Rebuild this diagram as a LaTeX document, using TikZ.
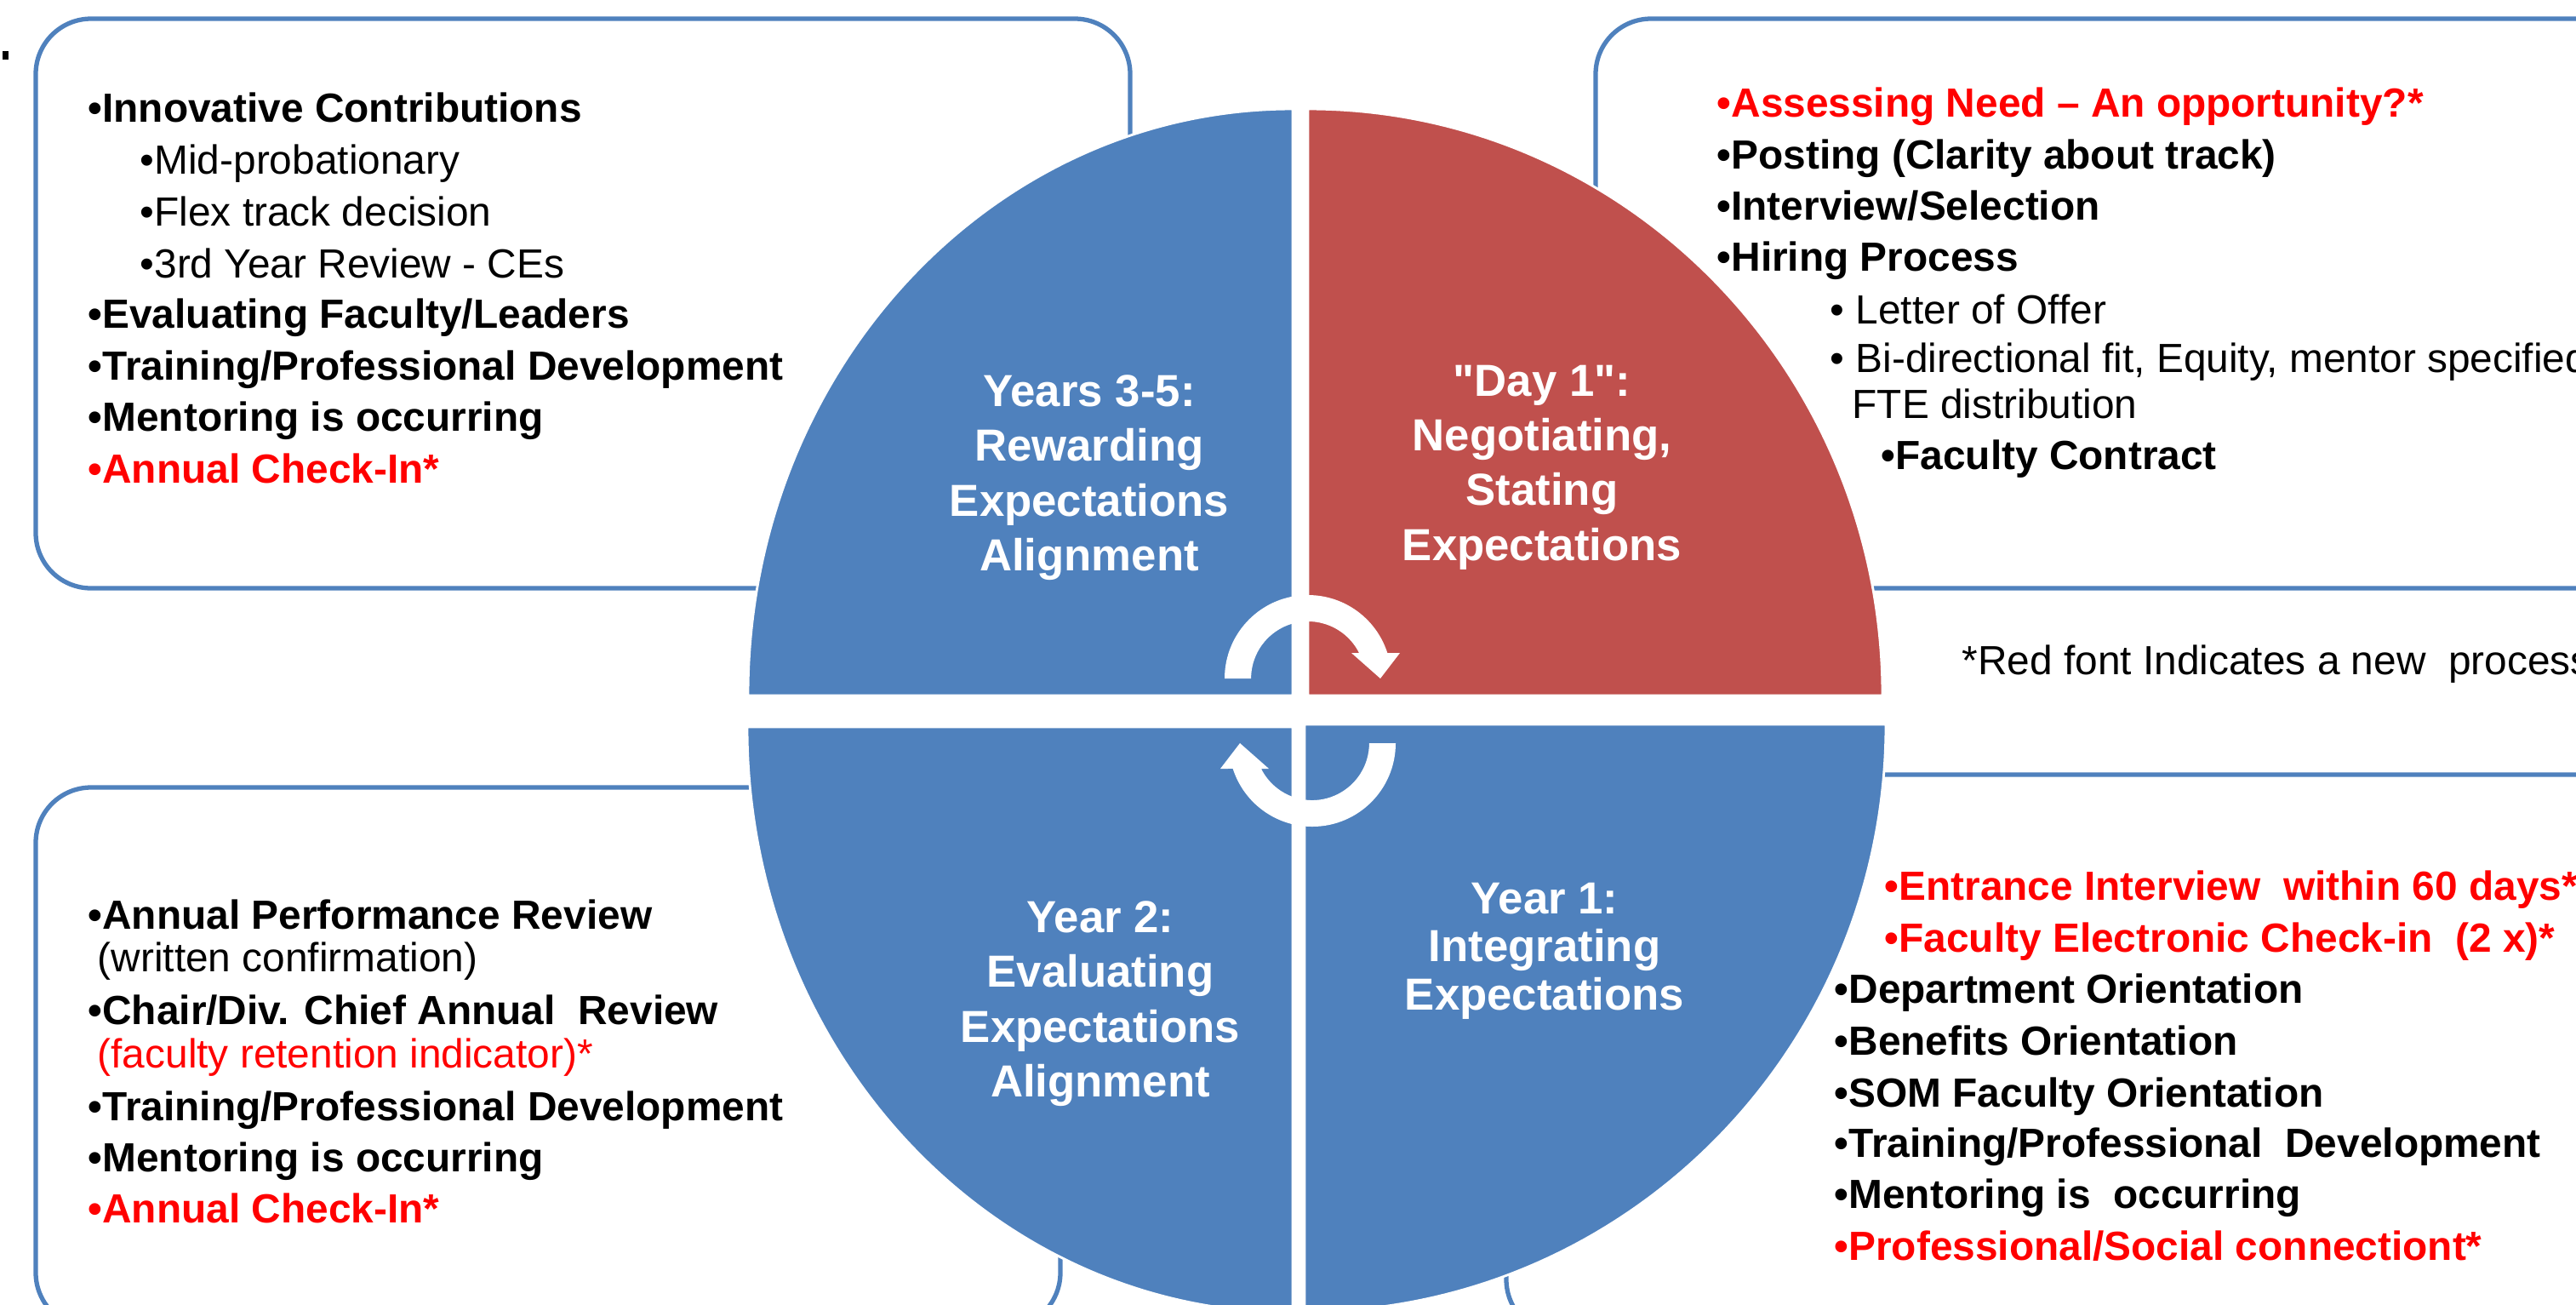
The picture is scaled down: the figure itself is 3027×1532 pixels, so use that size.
\documentclass[tikz,border=0pt]{standalone}
\usepackage{fontspec}
\setmainfont{Liberation Sans}
\newfontfamily\labelfont{Liberation Sans}
\definecolor{quadblue}{HTML}{4F81BD}
\definecolor{quadred}{HTML}{C0504D}
\definecolor{newred}{HTML}{FF0000}
\begin{document}
\begin{tikzpicture}[x=0.01cm,y=-0.01cm,
  panel/.style={draw=quadblue,line width=1.5pt,fill=white,rounded corners=0.65cm},
  wedge/.style={draw=white,line width=0.8pt},
  boxtext/.style={anchor=west,inner sep=0pt,text height=9.74pt,text depth=0pt},
  mainitem/.style={boxtext,font=\bfseries\fontsize{13.6}{17.3}\selectfont},
  subitem/.style={boxtext,font=\fontsize{13.6}{17.3}\selectfont},
  newitem/.style={mainitem,text=newred},
  newsub/.style={subitem,text=newred},
  quadlabel/.style={text=white,align=center,anchor=north,inner sep=0pt,
    font=\labelfont\bfseries\fontsize{15}{18.3}\selectfont}]
\useasboundingbox (0,0) rectangle (3027,1532);
\fill[white] (0,0) rectangle (3027,1532);
\fill[black] (3,60) rectangle (10,70);
% the four text panels, behind the wheel
\draw[panel] (42,22) rectangle (1328,691);
\draw[panel] (1875,22) rectangle (3150,691);
\draw[panel] (42,925) rectangle (1246,1560);
\draw[panel] (1770,910) rectangle (3150,1568);
% wheel quadrants
\filldraw[wedge,fill=quadblue] (1519,817) -- ++(-640,0) arc[start angle=180,end angle=270,x radius=640,y radius=689] -- cycle;
\filldraw[wedge,fill=quadred] (1537,817) -- ++(0,-689) arc[start angle=270,end angle=360,x radius=675,y radius=689] -- cycle;
\filldraw[wedge,fill=quadblue] (1519,854) -- ++(-641,0) arc[start angle=180,end angle=90,x radius=641,y radius=688] -- cycle;
\filldraw[wedge,fill=quadblue] (1533,851) -- ++(683,0) arc[start angle=0,end angle=90,x radius=683,y radius=690] -- cycle;
% circular arrows in the middle
\foreach \r in {0,180}
  \fill[white,rotate around={\r:(1539.5,835)}] (1439,797) arc[start angle=180,end angle=342.2,radius=98]
    -- (1645,767) -- (1622,797) -- (1588,767) -- (1597,767)
    arc[start angle=333.4,end angle=180,radius=67] -- cycle;
% quadrant titles
\node[quadlabel] (q35) at (1280,440) {Years 3-5:\\Rewarding\\Expectations\\Alignment};
\node[quadlabel] (qday) at (1812,428) {"Day 1":\\Negotiating,\\Stating\\Expectations};
\node[quadlabel] (qy2) at (1293,1058) {Year 2:\\Evaluating\\Expectations\\Alignment};
\node[quadlabel,font=\labelfont\bfseries\fontsize{15}{16.2}\selectfont] (qy1) at (1815,1036) {Year 1:\\Integrating\\Expectations};
% top left panel
\node[mainitem] (tl1) at (103,126) {•Innovative Contributions};
\node[subitem] (tl2) at (164,187) {•Mid-probationary};
\node[subitem] (tl3) at (164,248) {•Flex track decision};
\node[subitem] (tl4) at (164,309) {•3rd Year Review - CEs};
\node[mainitem] (tl5) at (103,368) {•Evaluating Faculty/Leaders};
\node[mainitem] (tl6) at (103,429) {•Training/Professional Development};
\node[mainitem] (tl7) at (103,489) {•Mentoring is occurring};
\node[newitem] (tl8) at (103,550) {•Annual Check-In*};
% top right panel
\node[newitem] (tr1) at (2017,120) {•Assessing Need -- An opportunity?*};
\node[mainitem] (tr2) at (2017,181) {•Posting (Clarity about track)};
\node[mainitem] (tr3) at (2017,241) {•Interview/Selection};
\node[mainitem] (tr4) at (2017,301) {•Hiring Process};
\node[subitem] (tr5) at (2150,363) {• Letter of Offer};
\node[subitem] (tr6) at (2150,420) {• Bi-directional fit, Equity, mentor specified};
\node[subitem] (tr7) at (2176,474) {FTE distribution};
\node[mainitem] (tr8) at (2210,534) {•Faculty Contract};
\node[subitem] (note) at (2305,775) {*Red font Indicates a new~ process};
% bottom left panel
\node[mainitem] (bl1) at (103,1074) {•Annual Performance Review};
\node[subitem] (bl2) at (114,1124) {(written confirmation)};
\node[mainitem] (bl3) at (103,1186) {•Chair/Div. Chief Annual~ Review};
\node[newsub] (bl4) at (114,1237) {(faculty retention indicator)*};
\node[mainitem] (bl5) at (103,1299) {•Training/Professional Development};
\node[mainitem] (bl6) at (103,1359) {•Mentoring is occurring};
\node[newitem] (bl7) at (103,1419) {•Annual Check-In*};
% bottom right panel
\node[newitem] (br1) at (2214,1040) {•Entrance Interview~ within 60 days*};
\node[newitem] (br2) at (2214,1101) {•Faculty Electronic Check-in~ (2 x)*};
\node[mainitem] (br3) at (2155,1161) {•Department Orientation};
\node[mainitem] (br4) at (2155,1222) {•Benefits Orientation};
\node[mainitem] (br5) at (2155,1283) {•SOM Faculty Orientation};
\node[mainitem] (br6) at (2155,1342) {•Training/Professional~ Development};
\node[mainitem] (br7) at (2155,1402) {•Mentoring is~ occurring};
\node[newitem] (br8) at (2155,1463) {•Professional/Social connectiont*};
\end{tikzpicture}
\end{document}
